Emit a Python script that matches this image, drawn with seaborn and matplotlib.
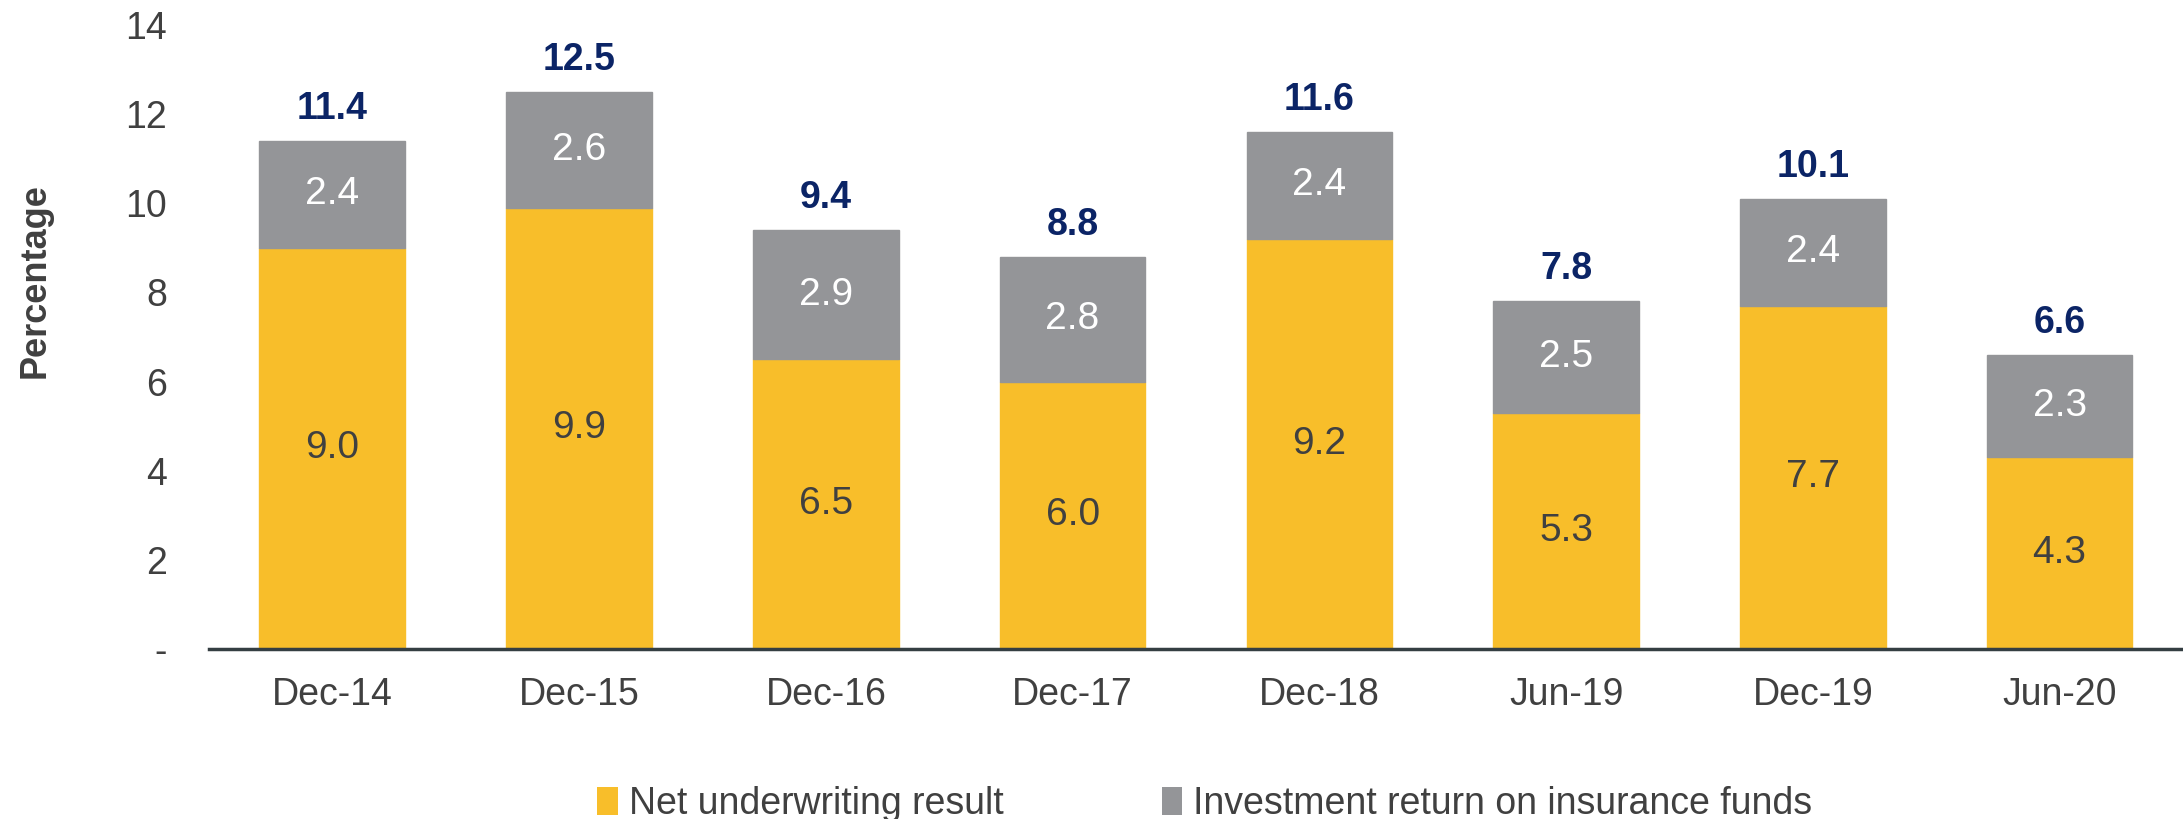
import numpy as np
import pandas as pd
import matplotlib
matplotlib.use("Agg")
import matplotlib.pyplot as plt
import seaborn as sns
from matplotlib.patches import Patch

# Data
periods = ["Dec-14", "Dec-15", "Dec-16", "Dec-17", "Dec-18", "Jun-19", "Dec-19", "Jun-20"]
underwriting = [9.0, 9.9, 6.5, 6.0, 9.2, 5.3, 7.7, 4.3]
investment = [2.4, 2.6, 2.9, 2.8, 2.4, 2.5, 2.4, 2.3]
totals = [11.4, 12.5, 9.4, 8.8, 11.6, 7.8, 10.1, 6.6]
series_names = ["Net underwriting result", "Investment return on insurance funds"]
y_ticks = [0, 2, 4, 6, 8, 10, 12, 14]
y_tick_labels = ["-", "2", "4", "6", "8", "10", "12", "14"]

# Styles
yellow = "#F8BE2A"
grey = "#949598"
navy = "#0B2466"
text_col = "#404040"

sns.set_style("white")
plt.rcParams["font.family"] = ["Liberation Sans", "DejaVu Sans"]

df = pd.DataFrame({"period": periods, "under": underwriting, "invest": investment, "total": totals})

fig = plt.figure(figsize=(21.83, 8.19), dpi=100)
ax = fig.add_axes([0.0957, 0.2076, 0.9043, 0.7619])

sns.barplot(data=df, x="period", y="under", color=yellow, saturation=1, width=0.59,
            linewidth=1, edgecolor=yellow, ax=ax)
sns.barplot(data=df, x="period", y="invest", bottom=df["under"].values, color=grey,
            saturation=1, width=0.59, linewidth=1, edgecolor=grey, ax=ax)

# Segment labels
for i, row in df.iterrows():
    ax.text(i, row["under"] / 2, f"{row['under']:.1f}", ha="center", va="center",
            fontsize=28, color=text_col)
    ax.text(i, row["under"] + row["invest"] / 2, f"{row['invest']:.1f}", ha="center",
            va="center", fontsize=28, color="white")
    ax.annotate(f"{row['total']:.1f}", xy=(i, row["total"]), xytext=(0, 10),
                textcoords="offset points", ha="center", va="bottom",
                fontsize=27, fontweight="bold", color=navy)

ax.set_xlim(-0.5, 7.5)
ax.set_ylim(0, 14)
ax.set_yticks(y_ticks)
ax.set_yticklabels(y_tick_labels)
ax.tick_params(axis="y", length=0, pad=30, labelsize=27, labelcolor=text_col)
ax.tick_params(axis="x", length=0, pad=20, labelsize=27, labelcolor=text_col)
ax.set_xlabel("")
ax.set_ylabel("Percentage", fontsize=26, fontweight="bold", color=text_col)
ax.yaxis.set_label_coords(-0.079, 0.59)

for s in ["top", "right", "left"]:
    ax.spines[s].set_visible(False)
ax.spines["bottom"].set_color("#343E42")
ax.spines["bottom"].set_linewidth(2.5)

handles = [Patch(facecolor=yellow, edgecolor="none"), Patch(facecolor=grey, edgecolor="none")]
fig.legend(handles, series_names, loc="lower center", bbox_to_anchor=(0.552, -0.045),
           ncol=2, frameon=False, fontsize=27, labelcolor=text_col,
           handlelength=0.55, handleheight=0.8, handletextpad=0.3, columnspacing=4.2)

fig.savefig("out.png", dpi=100)
